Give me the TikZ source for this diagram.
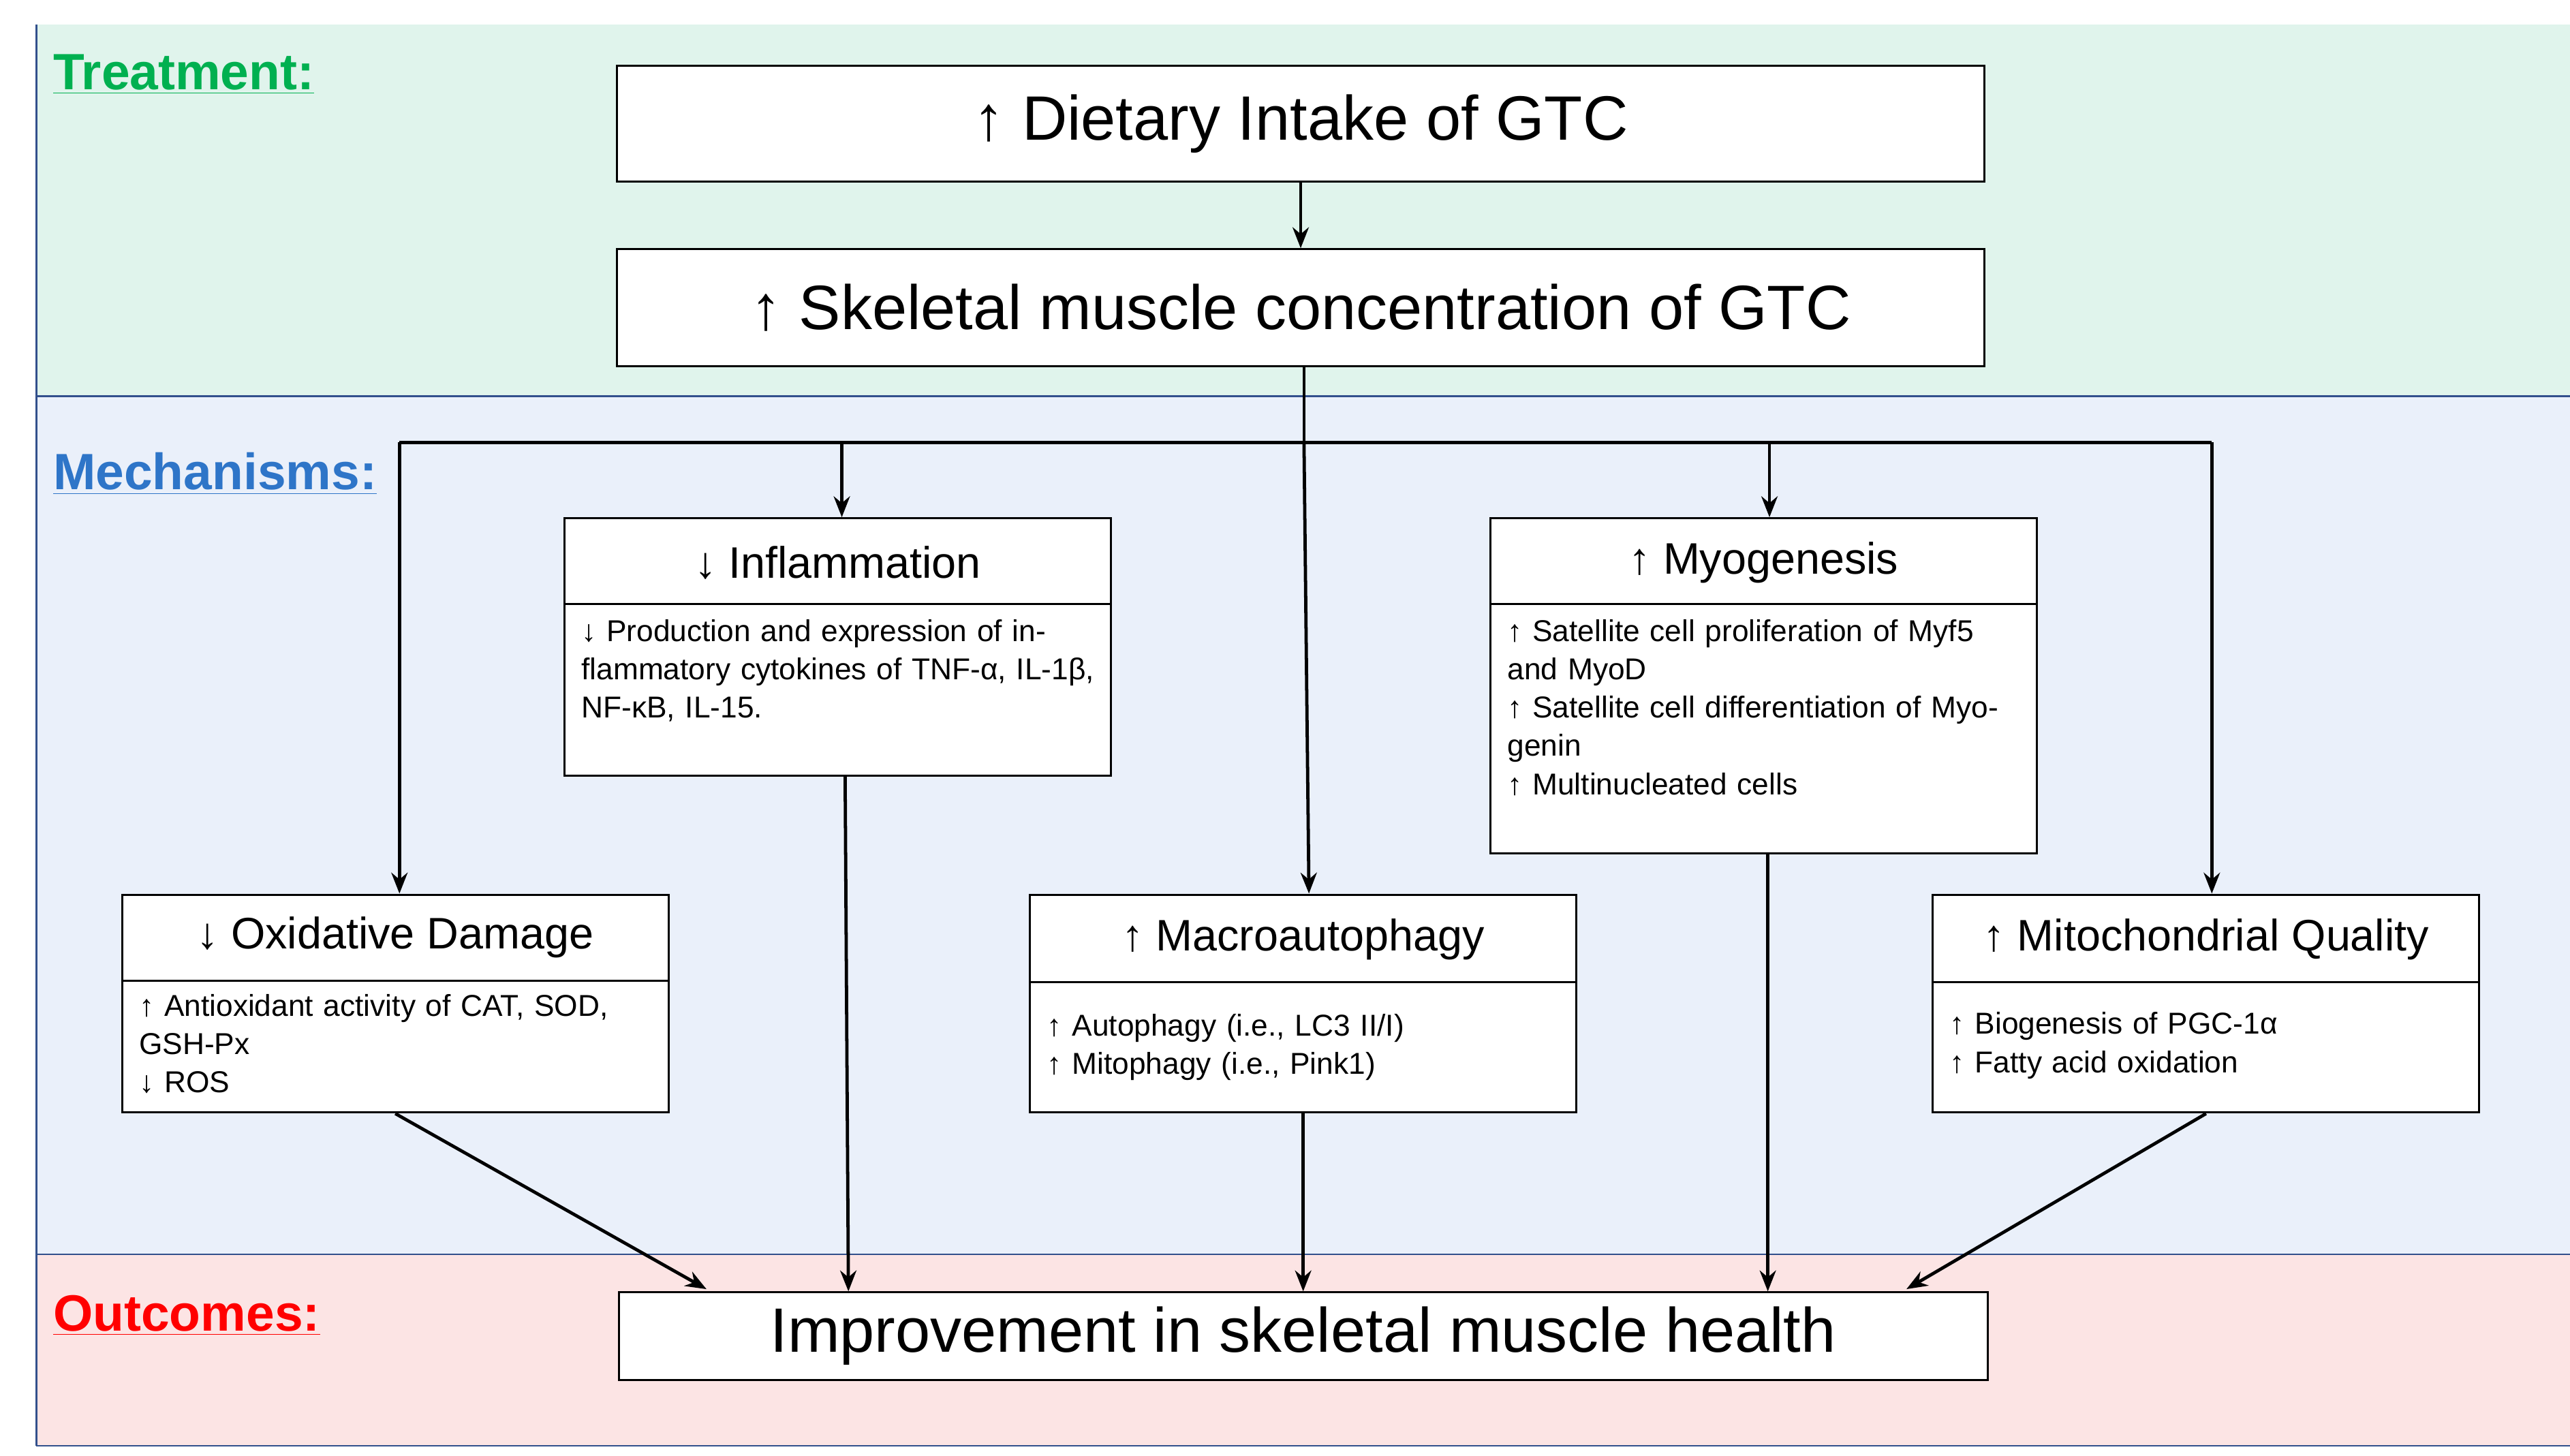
\documentclass[tikz,border=0pt]{standalone}
\usepackage{fontspec}
\setmainfont{Liberation Sans}
\usetikzlibrary{arrows.meta}
\begin{document}
\begin{tikzpicture}[x=0.025cm,y=-0.025cm,
  box/.style={draw,line width=0.9pt,fill=white,minimum width=8.275cm,inner sep=0pt},
  big/.style={draw,line width=0.9pt,fill=white,minimum width=20.7cm,inner sep=0pt,font=\fontsize{27}{30}\selectfont},
  head/.style={font=\fontsize{19}{22}\selectfont,inner sep=0pt},
  body/.style={font=\fontsize{13}{16.5}\selectfont,align=left,text width=7.8cm,anchor=north west,inner sep=0pt},
  con/.style={line width=1.4pt,-{Stealth[length=9pt,width=7pt]}},
  lab/.style={font=\fontsize{22}{24}\selectfont\bfseries,anchor=west,inner sep=0pt}]
\useasboundingbox (0,0) rectangle (1557,882);
\fill[green!8!cyan!5!white, fill={rgb,255:red,224;green,244;blue,236}] (22,15) rectangle (1557,240);
\fill[fill={rgb,255:red,234;green,240;blue,250}] (22,240) rectangle (1557,760);
\fill[fill={rgb,255:red,252;green,228;blue,228}] (22,760) rectangle (1557,876);
\draw[line width=1pt,color={rgb,255:red,50;green,80;blue,140}] (22,15) -- (22,876);
\draw[line width=1pt,color={rgb,255:red,50;green,80;blue,140}] (22,240) -- (1557,240);
\draw[line width=0.6pt,color={rgb,255:red,50;green,80;blue,140}] (22,760) -- (1557,760);
\draw[line width=0.6pt,color={rgb,255:red,50;green,80;blue,140}] (22,876) -- (1557,876);

\node[lab,color={rgb,255:red,0;green,176;blue,80}] (lt) at (32,45) {\underline{Treatment:}};
\node[lab,color={rgb,255:red,46;green,117;blue,200}] (lm) at (32,287) {\underline{Mechanisms:}};
\node[lab,color={rgb,255:red,255;green,0;blue,0}] (lo) at (32,797) {\underline{Outcomes:}};

\node[big,minimum height=1.75cm] (diet) at (788,75) {↑ Dietary Intake of GTC};
\node[big,minimum height=1.775cm] (skel) at (788,186.5) {↑ Skeletal muscle concentration of GTC};
\node[big,minimum width=20.725cm,minimum height=1.325cm] (imp) at (789.5,809.5) {Improvement in skeletal muscle health};

\node[box,minimum height=3.9cm] (inf) at (507.5,392) {};
\node[box,minimum height=5.075cm] (myo) at (1068.5,415.5) {};
\node[box,minimum height=3.3cm] (oxi) at (239.5,608) {};
\node[box,minimum height=3.3cm] (mac) at (789.5,608) {};
\node[box,minimum height=3.3cm] (mit) at (1336.5,608) {};

\draw[line width=0.9pt] (342,366) -- (673,366) (903,366) -- (1234,366)
  (74,594) -- (405,594) (624,595) -- (955,595) (1171,595) -- (1502,595);

\node[head] (infh) at (507.5,341) {↓ Inflammation};
\node[head] (myoh) at (1068.5,341) {↑ Myogenesis};
\node[head] (oxih) at (239.5,568) {↓ Oxidative Damage};
\node[head] (mach) at (789.5,569) {↑ Macroautophagy};
\node[head] (mith) at (1336.5,569) {↑ Mitochondrial Quality};

\node[body] (infb) at (352,375) {↓ Production and expression of inflammatory cytokines of TNF-α, IL-1β, NF-κB, IL-15.};
\node[body] (myob) at (913,375) {↑ Satellite cell proliferation of Myf5 and MyoD\\↑ Satellite cell differentiation of Myogenin\\↑ Multinucleated cells};
\node[body] (oxib) at (84,602) {↑ Antioxidant activity of CAT, SOD, GSH-Px\\↓ ROS};
\node[body] (macb) at (634,614) {↑ Autophagy (i.e., LC3 II/I)\\↑ Mitophagy (i.e., Pink1)};
\node[body] (mitb) at (1181,613) {↑ Biogenesis of PGC-1α\\↑ Fatty acid oxidation};

\draw[con] (diet) -- (skel);
\coordinate (j) at (790,268);
\coordinate (jl) at (242,268);
\coordinate (jr) at (1340,268);
\draw[line width=1.4pt] (skel.south -| j) -- (j);
\draw[line width=1.4pt] (jl) -- (jr);
\draw[con] (jl) -- (oxi.north -| jl);
\draw[con] (jr) -- (mit.north -| jr);
\draw[con] (510,268) -- (inf.north -| 510,0);
\draw[con] (1072,268) -- (myo.north -| 1072,0);
\draw[con] (j) -- (mac.north -| 793,0);

\draw[con] (oxi.south) -- (428,781);
\draw[con] (512,470) -- (imp.north -| 514,0);
\draw[con] (mac.south) -- (imp.north -| mac.south);
\draw[con] (1071,517) -- (imp.north -| 1071,0);
\draw[con] (mit.south) -- (1155,781);
\end{tikzpicture}
\end{document}
